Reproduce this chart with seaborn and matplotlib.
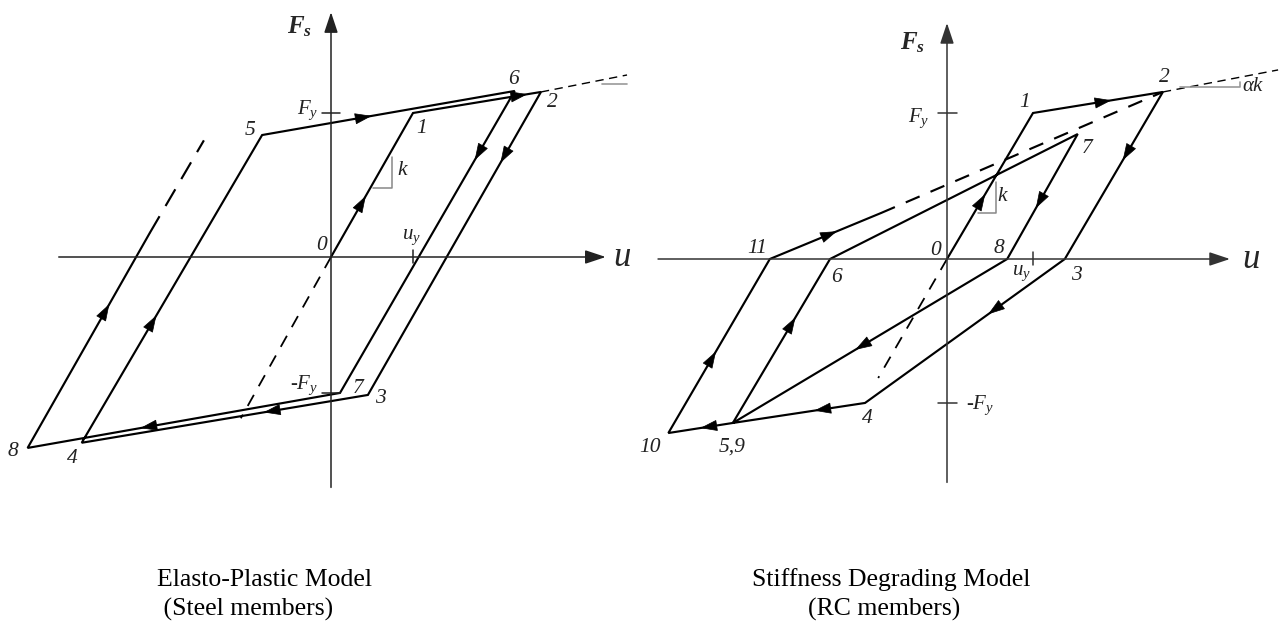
import numpy as np
import pandas as pd
import seaborn as sns
import matplotlib.pyplot as plt

# ---------------------------------------------------------------
# Hysteresis paths, u in units of u_y and F_s in units of F_y
# ---------------------------------------------------------------
# Elasto-plastic model (steel members): points 0..8, then reloading from 8
ep_u = [0.00, 1.00, 2.56, 0.45, -3.04, -0.84, 2.24, 0.11, -3.70, -2.21]
ep_f = [0.00, 1.00, 1.146, -0.958, -1.29, 0.847, 1.153, -0.944, -1.326, 0.167]
ep_reload_end = (-1.55, 0.81)      # dashed continuation of the last reloading branch
ep_elastic_neg = (-1.10, -1.12)    # dashed elastic branch below the origin
ep_hardening_ext = (3.61, 1.264)   # dashed post-yield extension beyond point 2

# Stiffness degrading model (RC members): points 0..11, then reloading towards 2
sd_u = [0.00, 1.00, 2.51, 1.37, -0.953, -2.49, -1.36, 1.52, 0.70, -2.49, -3.24, -2.06, -0.767]
sd_f = [0.00, 1.00, 1.144, 0.00, -0.986, -1.123, 0.00, 0.856, 0.00, -1.123, -1.192, 0.00, 0.315]
sd_elastic_neg = (-0.80, -0.815)
sd_hardening_ext = (3.85, 1.295)

captions_left = ["Elasto-Plastic Model", " (Steel members)"]
captions_right = ["Stiffness Degrading Model", "(RC members)"]

# ---------------------------------------------------------------
sns.set_theme(style="white")
plt.rcParams["font.family"] = ["Liberation Serif", "DejaVu Serif"]
plt.rcParams["mathtext.fontset"] = "custom"
plt.rcParams["mathtext.rm"] = "Liberation Serif"
plt.rcParams["mathtext.it"] = "Liberation Serif:italic"
plt.rcParams["mathtext.bf"] = "Liberation Serif:italic:bold"

W, H = 1280, 633
fig = plt.figure(figsize=(W / 100, H / 100), dpi=100)
fig.patch.set_facecolor("white")


def make_axes(left_px, origin_px, px_per_u, px_per_f):
    """Axes spanning half the canvas whose data units are (u/u_y, F/F_y)."""
    ox, oy = origin_px
    ax = fig.add_axes([left_px / W, 0, 640 / W, 1])
    ax.set_xlim((left_px - ox) / px_per_u, (left_px + 640 - ox) / px_per_u)
    ax.set_ylim((oy - H) / px_per_f, oy / px_per_f)
    ax.set_axis_off()
    return ax


def axis_arrow(ax, start, end, color="#222222"):
    ax.annotate("", xy=end, xytext=start,
                arrowprops=dict(arrowstyle="-|>,head_length=0.9,head_width=0.3",
                                color=color, lw=1.1, shrinkA=0, shrinkB=0,
                                mutation_scale=14))


def path_arrow(ax, p, q, t):
    p = np.asarray(p, float)
    q = np.asarray(q, float)
    m = p + t * (q - p)
    d = (q - p) * 0.004
    ax.annotate("", xy=m + d, xytext=m - d,
                arrowprops=dict(arrowstyle="-|>,head_length=0.85,head_width=0.28",
                                color="black", lw=0.5, shrinkA=0, shrinkB=0,
                                mutation_scale=13))


def draw_path(ax, u, f):
    df = pd.DataFrame({"u": u, "F": f})
    sns.lineplot(data=df, x="u", y="F", sort=False, estimator=None,
                 color="black", lw=1.55, ax=ax, solid_joinstyle="miter")


num_kw = dict(fontsize=15.5, fontstyle="italic", ha="center", va="center", color="#222222")
dash_long = (0, (9, 5.5))
dash_mid = (0, (7, 5.5))

# ---------------- Elasto-plastic panel ----------------
axL = make_axes(0, (331, 257), 82, 144)
axis_arrow(axL, (-3.32, 0), (3.35, 0))
axis_arrow(axL, (0, -1.60), (0, 1.70))
draw_path(axL, ep_u, ep_f)
axL.plot([ep_u[-1], ep_reload_end[0]], [ep_f[-1], ep_reload_end[1]], color="black", lw=1.55, ls=dash_long)
axL.plot([0, ep_elastic_neg[0]], [0, ep_elastic_neg[1]], color="black", lw=1.3, ls=dash_mid)
axL.plot([ep_u[2], ep_hardening_ext[0]], [ep_f[2], ep_hardening_ext[1]], color="black", lw=1.0, ls=(0, (6, 4)))
axL.plot([3.30, 3.61], [1.20, 1.20], color="#999999", lw=1.2)

ep_pts = list(zip(ep_u, ep_f))
for i, t in enumerate([0.42, 0.89, 0.23, 0.36, 0.41, 0.43, 0.225, 0.635, 0.665]):
    path_arrow(axL, ep_pts[i], ep_pts[i + 1], t)

# stiffness triangle k
axL.plot([0.512, 0.744, 0.744], [0.479, 0.479, 0.694], color="#888888", lw=1.1)
axL.text(0.87, 0.60, "k", **num_kw)
# yield ticks
axL.plot([-0.11, 0.11], [1.0, 1.0], color="#222222", lw=1.1)
axL.plot([-0.11, 0.11], [-0.944, -0.944], color="#222222", lw=1.1)
axL.plot([1.0, 1.0], [0.05, -0.04], color="#222222", lw=1.1)

axL.text(-0.378, 1.597, r"$\mathbf{F_s}$", fontsize=18, ha="center", va="center")
axL.text(3.55, 0.0, "u", fontsize=25, fontstyle="italic", ha="center", va="center")
axL.text(-0.16, 1.02, r"$F_y$", fontsize=15, ha="right", va="center", color="#222222")
axL.text(-0.16, -0.89, r"-$F_y$", fontsize=15, ha="right", va="center", color="#222222")
axL.text(0.98, 0.14, r"$u_y$", fontsize=15, ha="center", va="center", color="#222222")
for txt, xy in [("0", (-0.12, 0.083)), ("1", (1.10, 0.89)), ("2", (2.70, 1.07)),
                ("3", (0.60, -0.98)), ("4", (-3.15, -1.40)), ("5", (-0.99, 0.88)),
                ("6", (2.22, 1.23)), ("7", (0.33, -0.91)), ("8", (-3.88, -1.35))]:
    axL.text(*xy, txt, **num_kw)

# ---------------- Stiffness degrading panel ----------------
axR = make_axes(640, (947, 259), 86, 146)
axis_arrow(axR, (-3.36, 0), (3.29, 0), color="#333333")
axis_arrow(axR, (0, -1.53), (0, 1.616), color="#333333")
draw_path(axR, sd_u, sd_f)
axR.plot([sd_u[-1], sd_u[2]], [sd_f[-1], sd_f[2]], color="black", lw=1.55, ls=dash_mid)
axR.plot([0, sd_elastic_neg[0]], [0, sd_elastic_neg[1]], color="black", lw=1.3, ls=dash_mid)
axR.plot([sd_u[2], sd_hardening_ext[0]], [sd_f[2], sd_hardening_ext[1]], color="black", lw=1.0, ls=(0, (6, 4)))
axR.plot([2.71, 3.41, 3.41], [1.178, 1.178, 1.21], color="#999999", lw=1.2)
axR.text(3.43, 1.18, r"$\alpha k$", fontsize=15, ha="left", va="center", color="#222222")

sd_pts = list(zip(sd_u, sd_f))
sd_arrows = {0: 0.44, 1: 0.60, 2: 0.405, 3: 0.38, 4: 0.38, 5: 0.64,
             7: 0.59, 8: 0.55, 9: 0.50, 10: 0.465, 11: 0.60}
for i, t in sd_arrows.items():
    path_arrow(axR, sd_pts[i], sd_pts[i + 1], t)

axR.plot([0.36, 0.57, 0.57], [0.315, 0.315, 0.527], color="#888888", lw=1.1)
axR.text(0.64, 0.425, "k", **num_kw)
axR.plot([-0.105, 0.116], [1.0, 1.0], color="#333333", lw=1.1)
axR.plot([-0.105, 0.116], [-0.986, -0.986], color="#333333", lw=1.1)
axR.plot([1.0, 1.0], [0.048, -0.04], color="#333333", lw=1.1)

axR.text(-0.395, 1.48, r"$\mathbf{F_s}$", fontsize=18, ha="center", va="center")
axR.text(3.53, 0.0, "u", fontsize=25, fontstyle="italic", ha="center", va="center")
axR.text(-0.2, 0.966, r"$F_y$", fontsize=15, ha="right", va="center", color="#222222")
axR.text(0.22, -1.0, r"-$F_y$", fontsize=15, ha="left", va="center", color="#222222")
axR.text(0.87, -0.10, r"$u_y$", fontsize=15, ha="center", va="center", color="#222222")
for txt, xy in [("0", (-0.13, 0.06)), ("1", (0.90, 1.07)), ("2", (2.53, 1.24)),
                ("3", (1.51, -0.11)), ("4", (-0.93, -1.09)), ("5,9", (-2.50, -1.29)),
                ("6", (-1.28, -0.13)), ("7", (1.63, 0.76)), ("8", (0.60, 0.075)),
                ("10", (-3.45, -1.29)), ("11", (-2.21, 0.075))]:
    axR.text(*xy, txt, **num_kw)

# ---------------- captions ----------------
cap_kw = dict(fontsize=18.5, ha="left", va="center", color="black")
fig.text(157 / W, 1 - 580 / H, captions_left[0], **cap_kw)
fig.text(157 / W, 1 - 609 / H, captions_left[1], **cap_kw)
fig.text(752 / W, 1 - 580 / H, captions_right[0], **cap_kw)
fig.text(808 / W, 1 - 609 / H, captions_right[1], **cap_kw)

fig.savefig("out.png", dpi=100, facecolor="white")
